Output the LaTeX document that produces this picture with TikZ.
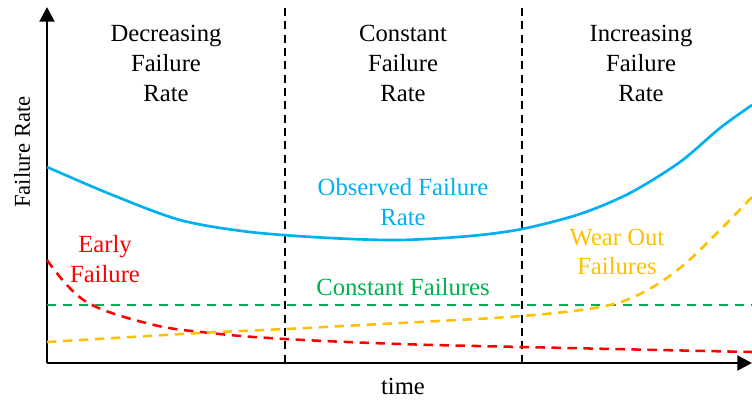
\documentclass[tikz,border=0pt]{standalone}
\usepackage{fontspec}
\setmainfont{Liberation Serif}
\usetikzlibrary{positioning}
\usetikzlibrary{arrows.meta}
\definecolor{observed}{HTML}{00B0F0}
\definecolor{early}{HTML}{FF0000}
\definecolor{constant}{HTML}{00B050}
\definecolor{wearout}{HTML}{FFC000}
\tikzset{axis/.style = {line width=2.2pt,-{Triangle[length=11pt,width=11pt]}},
         zone/.style = {align=center,font=\fontsize{18.5}{22.5}\selectfont},
         label/.style = {align=center,font=\fontsize{18.5}{22}\selectfont},
         curve/.style = {line width=1.9pt,dash pattern=on 7pt off 5pt}}

\begin{document}
\begin{tikzpicture}[x=0.75pt,y=-0.75pt]
    \useasboundingbox (0,0) rectangle (752,403);
    % axes
    \coordinate (origin) at (47,363);
    \coordinate (ytop) at (47,7);
    \coordinate (xend) at (752,363);
    \draw[axis] (origin) -- (ytop);
    \draw[axis] (origin) -- (xend);
    \node[label,rotate=90,font=\fontsize{17}{20}\selectfont] (ylab) at (22,152) {Failure Rate};
    \node[label] (xlab) at (403,386) {time};
    % zone borders
    \draw[line width=1.2pt,dash pattern=on 6pt off 4pt] (285,8) -- (285,363);
    \draw[line width=1.2pt,dash pattern=on 6pt off 4pt] (522,8) -- (522,363);
    \node[zone] (dec) at (166,63) {Decreasing\\Failure\\Rate};
    \node[zone] (con) at (403,63) {Constant\\Failure\\Rate};
    \node[zone] (inc) at (641,63) {Increasing\\Failure\\Rate};
    % observed rate
    \draw[observed,line width=2pt] plot[smooth,tension=0.5] coordinates
        {(47,167) (110,194) (180,220) (250,232) (330,238) (400,240) (470,236) (522,229) (580,214) (630,193) (680,162) (720,128) (752,105)};
    \node[label,text=observed] (obs) at (403,202) {Observed Failure\\Rate};
    % early failures
    \draw[curve,early] plot[smooth,tension=0.6] coordinates
        {(47,260) (85,301) (150,324) (210,333) (285,339) (400,344) (522,347) (752,352)};
    \node[label,text=early] (ear) at (105,259) {Early\\Failure};
    % constant failures
    \draw[curve,constant,line width=1.6pt] (47,305) -- (752,305);
    \node[label,text=constant] (cst) at (403,287) {Constant Failures};
    % wear out failures
    \draw[curve,wearout] plot[smooth,tension=0.6] coordinates
        {(47,342) (200,333) (285,329) (400,323) (522,316) (600,307) (640,294) (680,268) (720,230) (752,197)};
    \node[label,text=wearout] (wea) at (617,252) {Wear Out\\Failures};
\end{tikzpicture}
\end{document}
